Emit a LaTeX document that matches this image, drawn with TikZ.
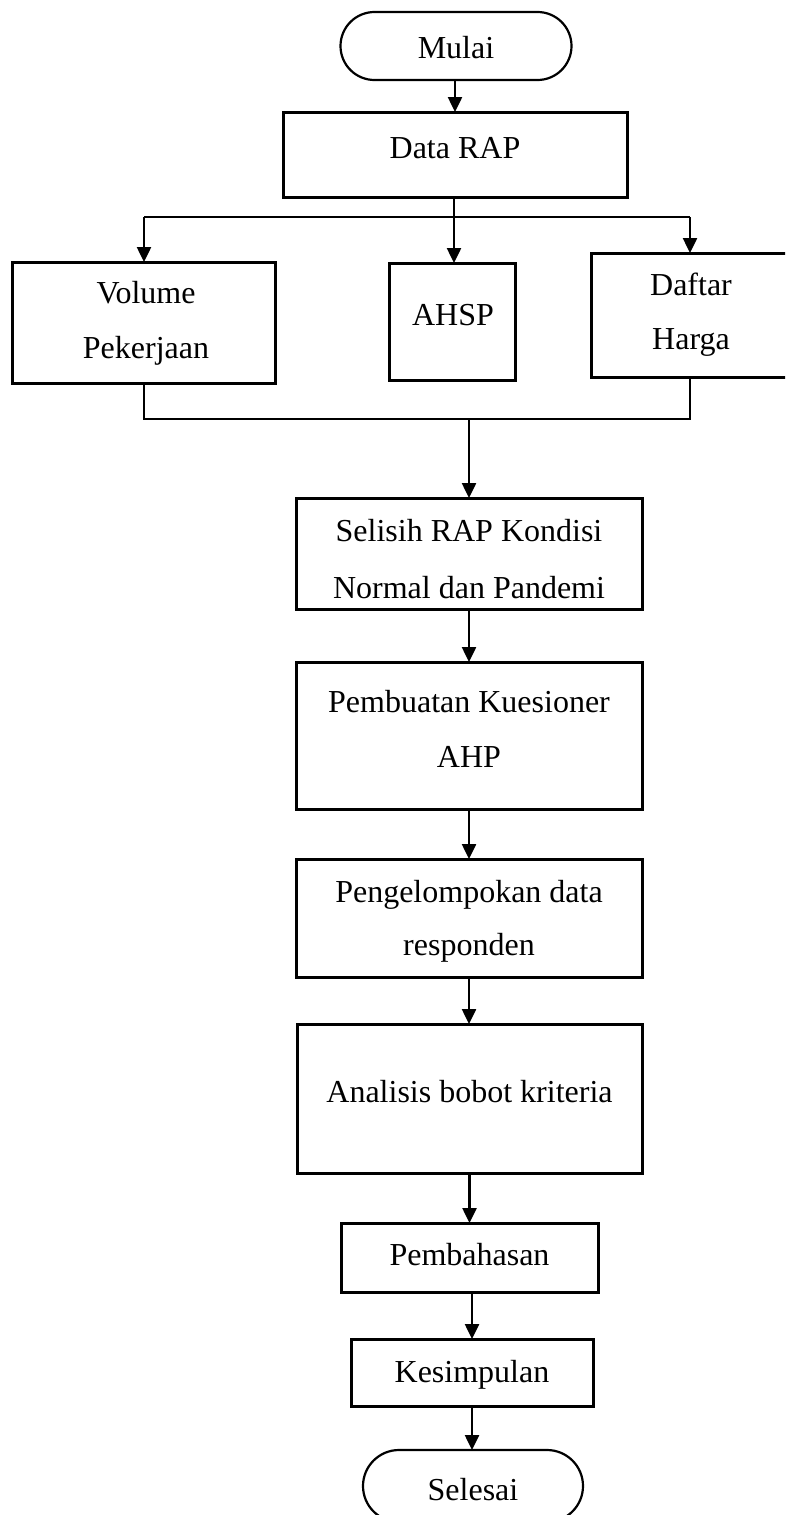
\documentclass[tikz,border=0pt]{standalone}
\usepackage{fontspec}
\setmainfont{Liberation Serif}
\usetikzlibrary{arrows.meta}
\tikzset{
  box/.style={draw, line width=3pt, rectangle, inner sep=0pt, outer sep=0pt},
  term/.style={draw, line width=2.2pt, rectangle, rounded corners=34pt, inner sep=0pt, outer sep=0pt},
  txt/.style={anchor=base, inner sep=0pt, font=\fontsize{32}{38}\selectfont},
  conn/.style={line width=2.5pt},
  arr/.style={line width=2.5pt, -{Triangle[width=14pt,length=15pt]}},
  thinline/.style={line width=1.7pt}
}
\begin{document}
\begin{tikzpicture}[x=1pt,y=-1pt]
\useasboundingbox (0,0) rectangle (785,1515);
\clip (0,0) rectangle (785,1515);
% terminals and boxes
\node[term, minimum width=231pt, minimum height=68pt] (Mulai) at (456,46) {};
\node[txt] (tMulai) at (456,58) {Mulai};

\node[box, minimum width=344pt, minimum height=85pt] (DataRAP) at (455,154.5) {};
\node[txt] (tDataRAP) at (455,158) {Data RAP};

\node[box, minimum width=263pt, minimum height=121pt] (Volume) at (144,322.5) {};
\node[txt] (tVolume1) at (146,303) {Volume};
\node[txt] (tVolume2) at (146,358) {Pekerjaan};

\node[box, minimum width=126pt, minimum height=117pt] (AHSP) at (452,321.5) {};
\node[txt] (tAHSP) at (453,325) {AHSP};

\node[box, minimum width=198pt, minimum height=124pt] (Daftar) at (690,315) {};
\node[txt] (tDaftar1) at (691,295) {Daftar};
\node[txt] (tDaftar2) at (691,349) {Harga};

\node[box, minimum width=346pt, minimum height=111pt] (Selisih) at (469,553.5) {};
\node[txt] (tSelisih1) at (469,541) {Selisih RAP Kondisi};
\node[txt] (tSelisih2) at (469,598) {Normal dan Pandemi};

\node[box, minimum width=346pt, minimum height=147pt] (Pembuatan) at (469,735.5) {};
\node[txt] (tPembuatan1) at (469,712) {Pembuatan Kuesioner};
\node[txt] (tPembuatan2) at (469,767) {AHP};

\node[box, minimum width=346pt, minimum height=118pt] (Pengelompokan) at (469,918) {};
\node[txt] (tPengelompokan1) at (469,902) {Pengelompokan data};
\node[txt] (tPengelompokan2) at (469,955) {responden};

\node[box, minimum width=345pt, minimum height=149pt] (Analisis) at (469.5,1098.5) {};
\node[txt] (tAnalisis) at (469.5,1102) {Analisis bobot kriteria};

\node[box, minimum width=257pt, minimum height=69pt] (Pembahasan) at (469.5,1257.5) {};
\node[txt] (tPembahasan) at (469.5,1265) {Pembahasan};

\node[box, minimum width=242pt, minimum height=67pt] (Kesimpulan) at (472,1372.5) {};
\node[txt] (tKesimpulan) at (472,1382) {Kesimpulan};

\node[term, minimum width=220pt, minimum height=72pt, rounded corners=36pt] (Selesai) at (473,1486) {};
\node[txt] (tSelesai) at (473,1500) {Selesai};

% connectors
\draw[arr] (DataRAP.north |- Mulai.south) -- (DataRAP.north);

\coordinate (sp) at (454,217);
\coordinate (spL) at (144,217);
\coordinate (spR) at (690,217);
\draw[conn] (DataRAP.south -| sp) -- (sp);
\draw[conn] (spL) -- (spR);
\draw[arr] (spL) -- (Volume.north);
\draw[arr] (sp) -- (sp |- AHSP.north);
\draw[arr] (spR) -- (Daftar.north);

\coordinate (jL) at (144,419);
\coordinate (jR) at (690,419);
\coordinate (jM) at (469,419);
\draw[thinline] (Volume.south) -- (jL) -- (jR) -- (Daftar.south);
\draw[arr] (jM) -- (Selisih.north);

\draw[arr] (Selisih.south) -- (Pembuatan.north);
\draw[arr] (Pembuatan.south) -- (Pengelompokan.north);
\draw[arr] (Pengelompokan.south) -- (Pengelompokan.south |- Analisis.north);
\draw[arr] (Analisis.south -| Pembahasan.north) -- (Pembahasan.north);
\draw[arr] (Kesimpulan.north |- Pembahasan.south) -- (Kesimpulan.north);
\draw[arr] (Kesimpulan.south) -- (Kesimpulan.south |- Selesai.north);
\end{tikzpicture}
\end{document}
